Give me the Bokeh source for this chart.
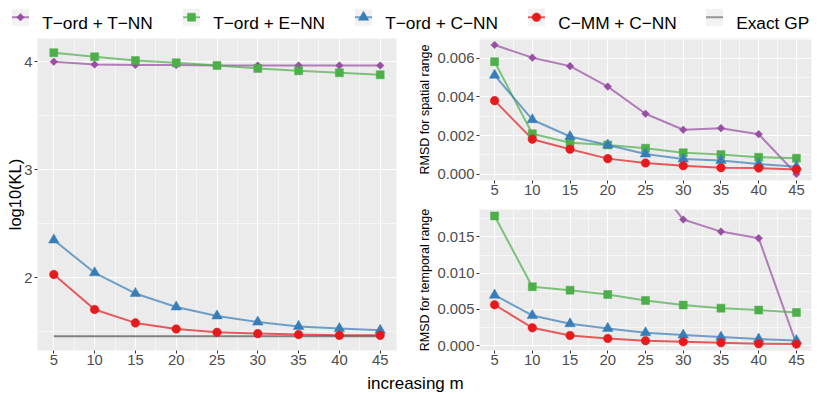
import math
from bokeh.plotting import figure
from bokeh.layouts import column, row
from bokeh.models import Range1d, FixedTicker, NumeralTickFormatter
from bokeh.embed import file_html
from bokeh.resources import INLINE
from bokeh.core.properties import value

# ---------------- data ----------------
m_values = [5, 10, 15, 20, 25, 30, 35, 40, 45]
method_labels = ["T\u2212ord + T\u2212NN", "T\u2212ord + E\u2212NN", "T\u2212ord + C\u2212NN", "C\u2212MM + C\u2212NN"]
exact_label = "Exact GP"
x_title = "increasing m"

kl_tt = [4.000, 3.975, 3.970, 3.970, 3.965, 3.965, 3.965, 3.965, 3.965]
kl_te = [4.084, 4.046, 4.012, 3.990, 3.966, 3.938, 3.916, 3.898, 3.879]
kl_tc = [2.350, 2.046, 1.855, 1.730, 1.647, 1.590, 1.550, 1.530, 1.514]
kl_cc = [2.030, 1.706, 1.582, 1.526, 1.495, 1.483, 1.474, 1.467, 1.467]
kl_exact = [1.458, 1.458, 1.458, 1.458, 1.458, 1.458, 1.458, 1.458, 1.458]

sp_tt = [0.00670, 0.00604, 0.00560, 0.00454, 0.00313, 0.00230, 0.00238, 0.00207, 0.00000]
sp_te = [0.00583, 0.00209, 0.00162, 0.00151, 0.00134, 0.00110, 0.00101, 0.00087, 0.00082]
sp_tc = [0.00513, 0.00282, 0.00195, 0.00151, 0.00104, 0.00078, 0.00070, 0.00052, 0.00038]
sp_cc = [0.00381, 0.00181, 0.00129, 0.00080, 0.00057, 0.00043, 0.00033, 0.00031, 0.00024]

tp_tt = [0.06000, 0.04500, 0.03600, 0.03000, 0.02410, 0.01739, 0.01573, 0.01482, 0.00023]
tp_te = [0.01789, 0.00812, 0.00766, 0.00706, 0.00624, 0.00560, 0.00518, 0.00491, 0.00459]
tp_tc = [0.00697, 0.00417, 0.00303, 0.00239, 0.00179, 0.00147, 0.00119, 0.00092, 0.00073]
tp_cc = [0.00564, 0.00248, 0.00142, 0.00101, 0.00069, 0.00055, 0.00041, 0.00028, 0.00023]

x_ticks = [5, 10, 15, 20, 25, 30, 35, 40, 45]
kl_ticks = [2, 3, 4]
spatial_ticks = [0.000, 0.002, 0.004, 0.006]
temporal_ticks = [0.000, 0.005, 0.010, 0.015]

# ---------------- style ----------------
FONT = "Liberation Sans"
COLORS = ["#984EA3", "#4DAF4A", "#377EB8", "#E41A1C"]
EXACT_COLOR = "#6E6E6E"
MARKERS = [("square", 5.4, math.pi / 4), ("square", 8.0, 0.0), ("triangle", 10.5, 0.0), ("circle", 8.6, 0.0)]
PANEL_BG = "#EBEBEB"


def padded(lo, hi, f=0.05):
    d = (hi - lo) * f
    return lo - d, hi + d


def minor_between(ticks, lo, hi):
    step = ticks[1] - ticks[0]
    ext = [ticks[0] - step] + list(ticks) + [ticks[-1] + step]
    mids = [(a + b) / 2 for a, b in zip(ext[:-1], ext[1:])]
    return [v for v in mids if lo <= v <= hi]


X_LO, X_HI = padded(min(m_values), max(m_values))


def panel(width, height, yr, yticks, ylabel, ylabel_size, fmt, borders, ylabel_standoff):
    p = figure(width=width, height=height, x_range=Range1d(X_LO, X_HI), y_range=Range1d(*yr),
               output_backend="svg", toolbar_location=None,
               min_border_left=borders[0], min_border_right=borders[1],
               min_border_top=borders[2], min_border_bottom=borders[3])
    p.background_fill_color = PANEL_BG
    p.border_fill_color = "white"
    p.outline_line_color = None
    p.xaxis.ticker = FixedTicker(ticks=x_ticks, minor_ticks=minor_between(x_ticks, X_LO, X_HI))
    p.yaxis.ticker = FixedTicker(ticks=yticks, minor_ticks=minor_between(yticks, *yr))
    for ax in (p.xaxis[0], p.yaxis[0]):
        ax.axis_line_color = None
        ax.major_tick_line_color = "#333333"
        ax.major_tick_line_width = 1
        ax.major_tick_in = 0
        ax.major_tick_out = 3
        ax.minor_tick_in = 0
        ax.minor_tick_out = 0
        ax.major_label_text_font = FONT
        ax.major_label_text_font_size = "14.8px"
        ax.major_label_text_color = "#4D4D4D"
        ax.axis_label_text_font = FONT
        ax.axis_label_text_font_style = "normal"
        ax.axis_label_text_color = "black"
    p.xaxis.major_label_standoff = 1
    p.yaxis.major_label_standoff = 2
    p.yaxis.axis_label = ylabel
    p.yaxis.axis_label_text_font_size = ylabel_size
    p.yaxis.axis_label_standoff = ylabel_standoff
    p.yaxis.formatter = fmt
    for g in (p.xgrid[0], p.ygrid[0]):
        g.grid_line_color = "white"
        g.grid_line_width = 1.1
        g.minor_grid_line_color = "white"
        g.minor_grid_line_width = 0.55
    return p


def draw(p, series, exact=None):
    if exact is not None:
        p.line(m_values, exact, line_color=EXACT_COLOR, line_width=2, line_alpha=0.85)
    for ys, c in zip(series, COLORS):
        p.line(m_values, ys, line_color=c, line_width=2, line_alpha=0.7)
    for ys, c, (mk, sz, ang) in zip(series, COLORS, MARKERS):
        p.scatter(m_values, ys, marker=mk, size=sz, angle=ang, fill_color=c, line_color=c, line_width=0.5)


# left panel
kl_all = kl_tt + kl_te + kl_tc + kl_cc + kl_exact
left = panel(412, 334, padded(min(kl_all), max(kl_all)), kl_ticks, "log10(KL)", "16.5px",
             NumeralTickFormatter(format="0"), (37, 16, 0, 22), -3)
draw(left, [kl_tt, kl_te, kl_tc, kl_cc], kl_exact)

# right top panel
sp_all = sp_tt + sp_te + sp_tc + sp_cc
rtop = panel(418, 166, padded(min(sp_all), max(sp_all)), spatial_ticks, "RMSD for spatial range", "12.5px",
             NumeralTickFormatter(format="0.000"), (67, 19, 0, 24), 2)
draw(rtop, [sp_tt, sp_te, sp_tc, sp_cc])

# right bottom panel (limits from the three lower series)
tp_lim = tp_te + tp_tc + tp_cc
rbot = panel(418, 168, padded(min(tp_lim), max(tp_lim)), temporal_ticks, "RMSD for temporal range", "12.5px",
             NumeralTickFormatter(format="0.000"), (67, 19, 5, 22), 2)
draw(rbot, [tp_tt, tp_te, tp_tc, tp_cc])

# legend strip
LEG_W, LEG_H = 830, 38
key_x = [20, 191, 363, 536, 714]
key_y = 16.7
text_y = 22.7
leg = figure(width=LEG_W, height=LEG_H, x_range=Range1d(0, LEG_W), y_range=Range1d(LEG_H, 0),
             output_backend="svg", toolbar_location=None, min_border=0,
             x_axis_type=None, y_axis_type=None)
leg.outline_line_color = None
leg.grid.visible = False
leg.rect(key_x, [key_y] * 5, width=17, height=17, fill_color="#F2F2F2", line_color=None)
for k, c in zip(key_x[:4], COLORS):
    leg.line([k - 8.5, k + 8.5], [key_y, key_y], line_color=c, line_width=2, line_alpha=0.7)
leg.line([key_x[4] - 8.5, key_x[4] + 8.5], [key_y, key_y], line_color=EXACT_COLOR, line_width=2, line_alpha=0.7)
for k, c, (mk, sz, ang) in zip(key_x[:4], COLORS, MARKERS):
    leg.scatter([k], [key_y], marker=mk, size=sz, angle=ang, fill_color=c, line_color=c, line_width=0.5)
leg.text([k + 21.7 for k in key_x], [text_y] * 5, text=method_labels + [exact_label],
         text_font=value(FONT), text_font_size="17.3px", text_color="black",
         text_align="left", text_baseline="alphabetic")

# shared x title
XT_H = 22
xt = figure(width=LEG_W, height=XT_H, x_range=Range1d(0, LEG_W), y_range=Range1d(XT_H, 0),
            output_backend="svg", toolbar_location=None, min_border=0,
            x_axis_type=None, y_axis_type=None)
xt.outline_line_color = None
xt.grid.visible = False
xt.text([415], [XT_H / 2], text=[x_title], text_font=value(FONT), text_font_size="17px",
        text_color="black", text_align="center", text_baseline="middle")

layout = column(leg, row(left, column(rtop, rbot)), xt)
open("out.html", "w").write(file_html(layout, INLINE))
